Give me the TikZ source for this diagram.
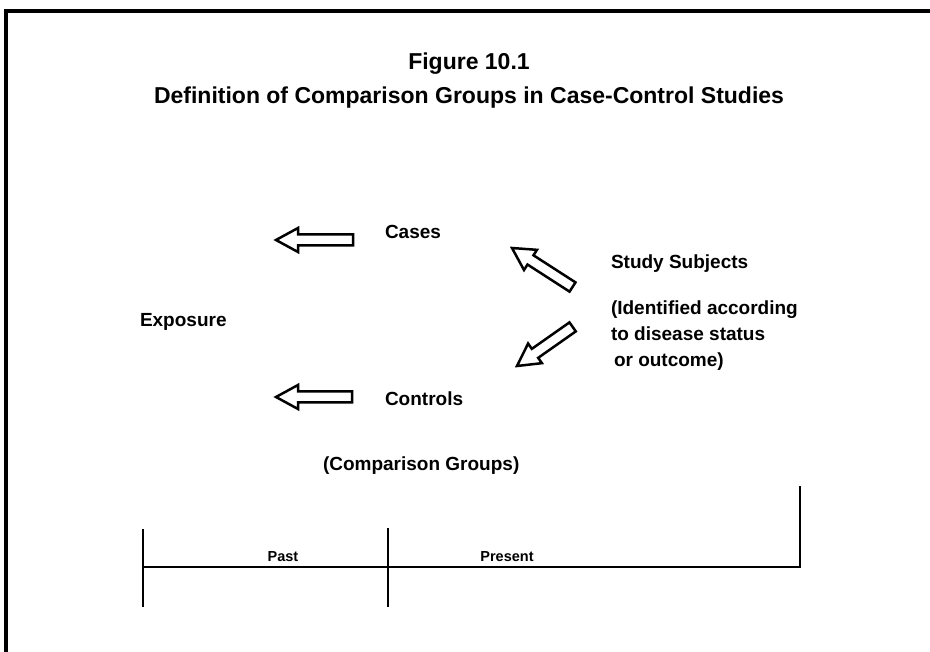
\documentclass[tikz,border=0pt]{standalone}
\usepackage{fontspec}
\setmainfont{Liberation Sans}
\begin{document}
\begin{tikzpicture}[x=1pt,y=-1pt,
  txt/.style={inner sep=0pt,outer sep=0pt,font=\fontsize{19}{23}\selectfont\bfseries},
  ttl/.style={inner sep=0pt,outer sep=0pt,font=\fontsize{23}{27}\selectfont\bfseries},
  small/.style={inner sep=0pt,outer sep=0pt,font=\fontsize{14.5}{17}\selectfont\bfseries},
  frameline/.style={line width=4pt},
  tline/.style={line width=2.2pt},
  blockarrow/.style={draw,line width=2.5pt,line join=miter,fill=white},
  barrow/.pic={\draw[blockarrow] (0,0) -- (22,-12) -- (22,-5.5) -- (#1,-5.5) -- (#1,5.5) -- (22,5.5) -- (22,12) -- cycle;}]
\useasboundingbox (0,0) rectangle (930,652);
% frame (top and left edges)
\draw[frameline] (4,11) -- (930,11);
\draw[frameline] (6,9) -- (6,652);
% titles
\node[ttl,anchor=base] (fig) at (469,70) {Figure 10.1};
\node[ttl,anchor=base] (def) at (469,104) {Definition of Comparison Groups in Case-Control Studies};
% texts
\node[txt,anchor=base west] (cases) at (385,239) {Cases};
\node[txt,anchor=base west] (controls) at (385,406) {Controls};
\node[txt,anchor=base west] (exposure) at (140,327) {Exposure};
\node[txt,anchor=base west] (comp) at (323,471) {(Comparison Groups)};
\node[txt,anchor=base west] (study) at (611,269) {Study Subjects};
\node[txt,anchor=base west] (id1) at (611,315) {(Identified according};
\node[txt,anchor=base west] (id2) at (611,341) {to disease status};
\node[txt,anchor=base west] (id3) at (614,367) {or outcome)};
% block arrows
\pic at (276,240) {barrow=77};
\pic at (276,397) {barrow=76};
\pic[rotate=-32.8] at (512,248) {barrow=72};
\pic[rotate=35.1] at (517,366) {barrow=68};
% timeline
\coordinate (tl) at (143,567);
\coordinate (tm) at (388,567);
\coordinate (tr) at (800,567);
\draw[tline] (tl) -- (tr) -- (800,486);
\draw[tline] (143,529) -- (143,607);
\draw[tline] (388,528) -- (388,607);
\node[small,anchor=base] (past) at (283,561) {Past};
\node[small,anchor=base] (present) at (507,561) {Present};
\end{tikzpicture}
\end{document}
